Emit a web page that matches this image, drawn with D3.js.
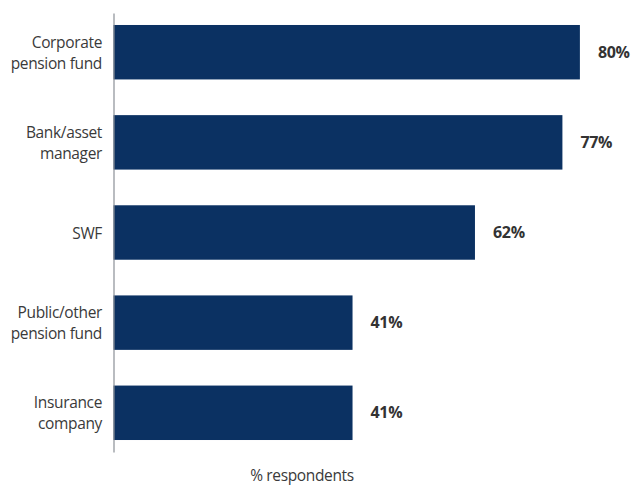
<!DOCTYPE html>
<html>
<head>
<meta charset="utf-8">
<script src="https://cdn.jsdelivr.net/npm/d3@7"></script>
<style>
  html, body { margin: 0; padding: 0; background: #fff; }
  svg { display: block; }
  text { font-family: "Open Sans", "Liberation Sans", sans-serif; }
</style>
</head>
<body>
<svg id="chart" width="633" height="486"></svg>
<script>
// Respondent types (label lines) and share of respondents, %
const categories = [
  ["Corporate", "pension fund"],
  ["Bank/asset", "manager"],
  ["SWF"],
  ["Public/other", "pension fund"],
  ["Insurance", "company"]
];
const values = [80, 77, 62, 41, 41];
const axisTitle = "% respondents";

const svg = d3.select("#chart");
const keys = categories.map(c => c.join(" "));

const x = d3.scaleLinear().domain([0, 100]).range([113.5, 696.5]);
const y = d3.scaleBand().domain(keys).range([13, 452])
  .paddingInner(0.396).paddingOuter(0.133);

const barColor = "#0b3162";

// bars
svg.append("g").selectAll("rect")
  .data(values)
  .join("rect")
  .attr("x", x(0))
  .attr("y", (d, i) => y(keys[i]))
  .attr("width", d => x(d) - x(0))
  .attr("height", y.bandwidth())
  .attr("fill", barColor);

// vertical category axis line
const yAxis = d3.axisLeft(y).tickSize(0).tickFormat("");
const gAxis = svg.append("g").attr("transform", `translate(${x(0)},0)`).call(yAxis);
gAxis.select(".domain").attr("stroke", "#8a8f96").attr("stroke-width", 1.2);

// category labels
const lineH = 21;
svg.append("g").selectAll("text")
  .data(categories)
  .join("text")
  .attr("x", 102)
  .attr("y", (d, i) => y(keys[i]) + y.bandwidth() / 2)
  .attr("text-anchor", "end")
  .attr("font-size", 15.5)
  .attr("letter-spacing", -0.35)
  .attr("fill", "#3a3a3a")
  .each(function(lines) {
    const t = d3.select(this);
    const off = -(lines.length - 1) * lineH / 2;
    lines.forEach((ln, k) => {
      t.append("tspan")
        .attr("x", 102)
        .attr("dy", k === 0 ? off + 6 : lineH)
        .text(ln);
    });
  });

// value labels
svg.append("g").selectAll("text")
  .data(values)
  .join("text")
  .attr("x", d => x(d) + 18)
  .attr("y", (d, i) => y(keys[i]) + y.bandwidth() / 2 + 5.5)
  .attr("font-size", 16)
  .attr("font-weight", "bold")
  .attr("letter-spacing", -0.3)
  .attr("fill", "#333")
  .text(d => d + "%");

// axis title
svg.append("text")
  .attr("x", 302)
  .attr("y", 481)
  .attr("text-anchor", "middle")
  .attr("font-size", 15.5)
  .attr("letter-spacing", -0.35)
  .attr("fill", "#3a3a3a")
  .text(axisTitle);
</script>
</body>
</html>
